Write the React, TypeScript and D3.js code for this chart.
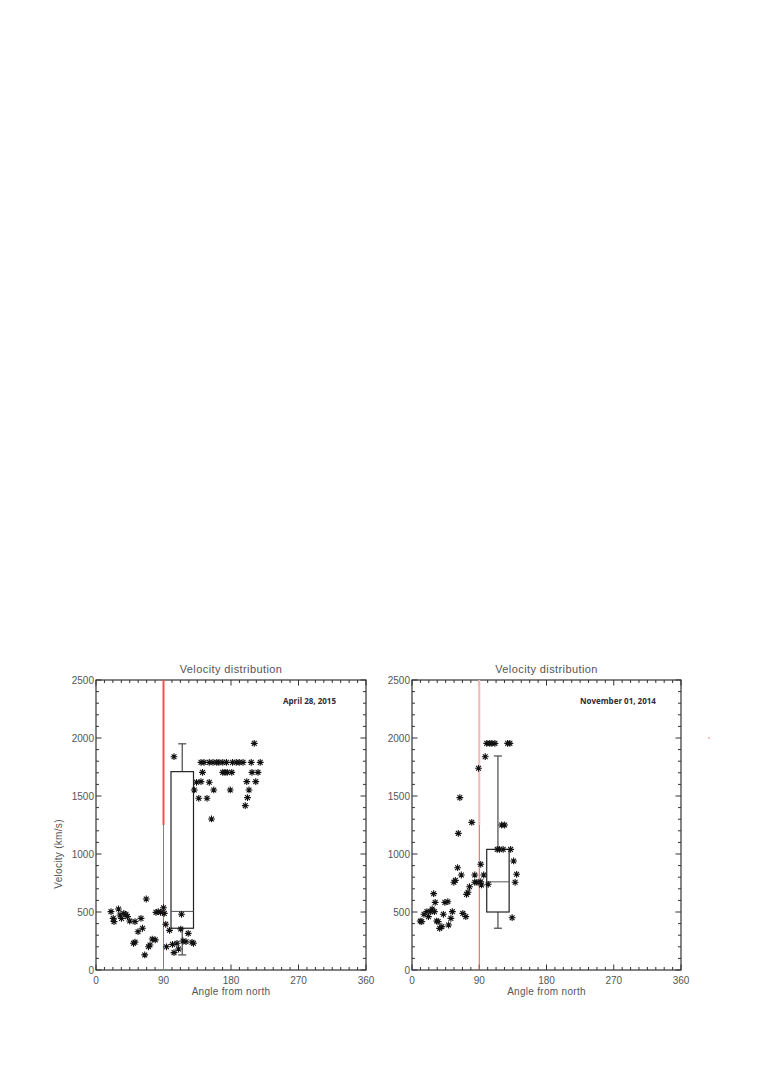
import React, { useEffect, useRef } from 'react';
import * as d3 from 'd3';

// April 28, 2015 event
const aprilAngles = [
  20, 23, 24, 30, 32, 34, 37, 40, 42, 45, 52, 56, 60, 62, 67, 65, 50, 52, 70, 72, 75, 79,
  80, 83, 86, 90, 91, 93, 98, 94, 102, 104, 108, 110, 114, 113, 116, 120, 123, 128, 130,
  104, 131, 134, 137, 140, 142, 140, 144, 148, 151, 154, 157, 151, 156, 161, 164, 169, 172,
  175, 169, 174, 181, 179, 182, 187, 191, 196, 199, 202, 204, 201, 207, 208, 211, 213, 216, 219
];
const aprilVelocities = [
  503, 445, 417, 526, 474, 445, 488, 480, 460, 422, 417, 330, 445, 360, 612, 130, 230, 240, 200, 215, 267, 260,
  497, 503, 497, 537, 488, 394, 342, 200, 221, 150, 230, 181, 480, 353, 250, 244, 316, 239, 230,
  1839, 1552, 1618, 1480, 1624, 1704, 1790, 1790, 1480, 1618, 1302, 1552, 1790, 1790, 1790, 1790, 1704, 1704,
  1704, 1790, 1790, 1704, 1552, 1790, 1790, 1790, 1790, 1417, 1486, 1552, 1624, 1790, 1704, 1954, 1624, 1704, 1790
];

// November 01, 2014 event
const novemberAngles = [
  11, 13, 16, 20, 22, 25, 27, 30, 29, 31, 33, 35, 37, 40, 42, 44, 48, 49, 52, 54, 56, 58,
  61, 62, 64, 66, 68, 72, 73, 75, 77, 80, 84, 84, 87, 89, 92, 93, 96, 92, 98, 102, 100, 104,
  107, 111, 114, 117, 120, 124, 122, 128, 131, 132, 134, 136, 138, 140
];
const novemberVelocities = [
  422, 417, 480, 503, 460, 503, 526, 503, 658, 583, 422, 417, 359, 374, 480, 583, 589, 388, 445, 503, 756, 773,
  882, 1178, 1486, 819, 488, 460, 652, 670, 718, 1273, 819, 756, 756, 1739, 911, 733, 819, 761, 1839, 739, 1954, 1954,
  1954, 1954, 1040, 1040, 1250, 1250, 1040, 1954, 1954, 1040, 451, 940, 756, 825
];

// box statistics: [whisker low, q1, median, q3, whisker high]
const aprilBox = [130, 360, 505, 1710, 1950];
const novemberBox = [360, 500, 760, 1040, 1845];
const boxAngles = [100, 130];

const xTicks = [0, 90, 180, 270, 360];
const yTicks = [0, 500, 1000, 1500, 2000, 2500];

const panels = [
  { left: 96, right: 366, angles: aprilAngles, vels: aprilVelocities, box: aprilBox, label: 'April 28, 2015', labelX: 283, yTitle: true, pale: false },
  { left: 412, right: 681, angles: novemberAngles, vels: novemberVelocities, box: novemberBox, label: 'November 01, 2014', labelX: 580, yTitle: false, pale: true }
];

const TOP = 680;
const BOTTOM = 970;
const FONT = '"Liberation Sans", Arial, sans-serif';

const App = () => {
  const ref = useRef<SVGSVGElement>(null);

  useEffect(() => {
    const svg = d3.select(ref.current);
    svg.selectAll('*').remove();

    panels.forEach(p => {
      const x = d3.scaleLinear().domain([0, 360]).range([p.left, p.right]);
      const y = d3.scaleLinear().domain([0, 2500]).range([BOTTOM, TOP]);
      const g = svg.append('g');

      // minor ticks on all sides
      const xMinor = d3.range(0, 360.01, 90 / 8);
      const yMinor = d3.range(0, 2500.01, 100);
      xMinor.forEach(v => {
        const len = v % 90 === 0 ? 5.5 : 3;
        g.append('line').attr('x1', x(v)).attr('x2', x(v)).attr('y1', BOTTOM).attr('y2', BOTTOM - len).attr('stroke', '#333');
        g.append('line').attr('x1', x(v)).attr('x2', x(v)).attr('y1', TOP).attr('y2', TOP + len).attr('stroke', '#333');
      });
      yMinor.forEach(v => {
        const len = v % 500 === 0 ? 5.5 : 3;
        g.append('line').attr('x1', p.left).attr('x2', p.left + len).attr('y1', y(v)).attr('y2', y(v)).attr('stroke', '#333');
        g.append('line').attr('x1', p.right).attr('x2', p.right - len).attr('y1', y(v)).attr('y2', y(v)).attr('stroke', '#333');
      });

      g.append('rect')
        .attr('x', p.left).attr('y', TOP)
        .attr('width', p.right - p.left).attr('height', BOTTOM - TOP)
        .attr('fill', 'none').attr('stroke', '#333').attr('stroke-width', 1.2);

      // tick labels
      g.selectAll('.xl').data(xTicks).enter().append('text')
        .attr('x', d => x(d)).attr('y', BOTTOM + 14)
        .attr('text-anchor', 'middle').attr('font-family', FONT).attr('font-size', 10)
        .attr('fill', '#555').text(d => d);
      g.selectAll('.yl').data(yTicks).enter().append('text')
        .attr('x', p.left - 2).attr('y', d => y(d) + 3.5)
        .attr('text-anchor', 'end').attr('font-family', FONT).attr('font-size', 10)
        .attr('fill', '#555').text(d => d);

      g.append('text')
        .attr('x', (p.left + p.right) / 2).attr('y', TOP - 7)
        .attr('text-anchor', 'middle').attr('font-family', FONT).attr('font-size', 11)
        .attr('letter-spacing', 0.4).attr('fill', '#555').text('Velocity distribution');
      g.append('text')
        .attr('x', (p.left + p.right) / 2).attr('y', BOTTOM + 25)
        .attr('text-anchor', 'middle').attr('font-family', FONT).attr('font-size', 10)
        .attr('letter-spacing', 0.3).attr('fill', '#555').text('Angle from north');
      if (p.yTitle) {
        g.append('text')
          .attr('transform', `translate(62,${y(1000)})rotate(-90)`)
          .attr('text-anchor', 'middle').attr('font-family', FONT).attr('font-size', 10)
          .attr('letter-spacing', 0.3).attr('fill', '#555').text('Velocity (km/s)');
      }

      g.append('text')
        .attr('x', p.labelX).attr('y', y(2290))
        .attr('font-family', '"Open Sans", "DejaVu Sans", sans-serif').attr('font-weight', 'bold')
        .attr('font-size', 8).attr('fill', '#2e2a3a').text(p.label);

      // reference line at 90 degrees
      g.append('line')
        .attr('x1', x(90)).attr('x2', x(90)).attr('y1', y(0)).attr('y2', y(1250))
        .attr('stroke', '#d85a5a').attr('stroke-width', 1);
      g.append('line')
        .attr('x1', x(90)).attr('x2', x(90)).attr('y1', y(1250)).attr('y2', y(2500))
        .attr('stroke', p.pale ? '#f5b8b8' : '#f05050').attr('stroke-width', 2);

      // box plot
      const [lo, q1, med, q3, hi] = p.box;
      const bx0 = x(boxAngles[0]);
      const bx1 = x(boxAngles[1]);
      const bc = x((boxAngles[0] + boxAngles[1]) / 2);
      g.append('line').attr('x1', bc).attr('x2', bc).attr('y1', y(q3)).attr('y2', y(hi)).attr('stroke', '#555').attr('stroke-width', 1.3);
      g.append('line').attr('x1', bc).attr('x2', bc).attr('y1', y(q1)).attr('y2', y(lo)).attr('stroke', '#555').attr('stroke-width', 1.3);
      g.append('line').attr('x1', bc - 4).attr('x2', bc + 4).attr('y1', y(hi)).attr('y2', y(hi)).attr('stroke', '#555').attr('stroke-width', 1.3);
      g.append('line').attr('x1', bc - 4).attr('x2', bc + 4).attr('y1', y(lo)).attr('y2', y(lo)).attr('stroke', '#555').attr('stroke-width', 1.3);
      g.append('rect')
        .attr('x', bx0).attr('y', y(q3)).attr('width', bx1 - bx0).attr('height', y(q1) - y(q3))
        .attr('fill', 'none').attr('stroke', '#222').attr('stroke-width', 1.2);
      g.append('line').attr('x1', bx0).attr('x2', bx1).attr('y1', y(med)).attr('y2', y(med)).attr('stroke', '#555').attr('stroke-width', 1);

      // asterisk markers
      const r = 3.4;
      const d45 = r * Math.SQRT1_2;
      const star = `M${-r},0L${r},0M0,${-r}L0,${r}M${-d45},${-d45}L${d45},${d45}M${-d45},${d45}L${d45},${-d45}`;
      g.selectAll('.pt').data(p.angles.map((a, i) => [a, p.vels[i]])).enter().append('path')
        .attr('transform', d => `translate(${x(d[0])},${y(d[1])})`)
        .attr('d', star).attr('fill', 'none').attr('stroke', '#111').attr('stroke-width', 1.1);
    });

    // stray mark right of the second panel
    svg.append('circle').attr('cx', 709).attr('cy', 738).attr('r', 0.7).attr('fill', '#e05050');
  }, []);

  return (
    <svg ref={ref} width={763} height={1080} style={{ position: 'absolute', left: 0, top: 0, background: '#fff' }} />
  );
};

export default App;
